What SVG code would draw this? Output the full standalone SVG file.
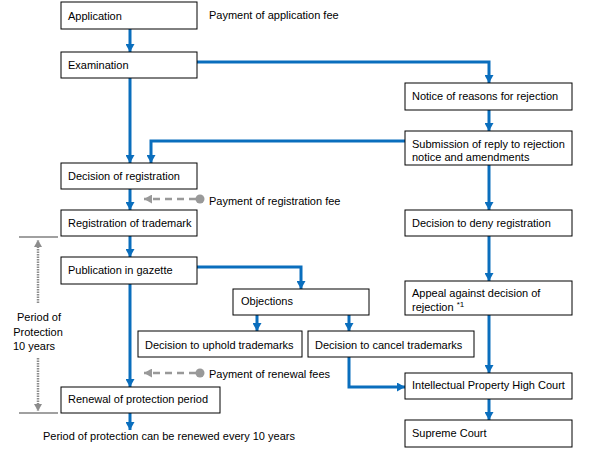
<svg xmlns="http://www.w3.org/2000/svg" width="592" height="450" viewBox="0 0 592 450">
<defs>
<style>
.box{fill:#fff;stroke:#000;stroke-width:1}
.t{font-family:"Liberation Sans",Arial,sans-serif;font-size:11px;fill:#000}
.c{fill:none;stroke:#0A6EBD;stroke-width:3;marker-end:url(#ab)}
.g{fill:none;stroke:#999;stroke-width:2.5;stroke-dasharray:7,5;marker-end:url(#ag)}
.br{stroke:#808080;stroke-width:1.5}
.dot{fill:none;stroke:#8c8c8c;stroke-width:2.5;stroke-dasharray:1.5,1}
</style>
<marker id="ab" markerUnits="userSpaceOnUse" markerWidth="8" markerHeight="9" refX="8" refY="4.5" orient="auto"><path d="M0,0 L8,4.5 L0,9 z" fill="#0A6EBD"/></marker>
<marker id="ag" markerUnits="userSpaceOnUse" markerWidth="9" markerHeight="9" refX="8" refY="4.5" orient="auto"><path d="M0,0 L8,4.5 L0,9 z" fill="#999"/></marker>
<marker id="ad" markerUnits="userSpaceOnUse" markerWidth="8" markerHeight="8" refX="7" refY="4" orient="auto"><path d="M0,0 L7,4 L0,8 z" fill="#8c8c8c"/></marker>
</defs>

<g id="connectors">
<path class="c" d="M130,29 V52"/>
<path class="c" d="M130,78 V163"/>
<path class="c" d="M197,62 H489 V83"/>
<path class="c" d="M489,110 V131"/>
<path class="c" d="M405,141 H151 V163"/>
<path class="c" d="M489,165 V210"/>
<path class="c" d="M130,189 V210"/>
<path class="c" d="M130,236 V257"/>
<path class="c" d="M130,284 V387"/>
<path class="c" d="M197,267 H301 V289"/>
<path class="c" d="M257,315 V331"/>
<path class="c" d="M349,315 V331"/>
<path class="c" d="M489,236 V281"/>
<path class="c" d="M489,315 V373"/>
<path class="c" d="M349,357 V387 H405"/>
<path class="c" d="M489,399 V420"/>
<path class="c" d="M130,413 V430"/>
<path class="g" d="M196,199 H144"/>
<circle cx="200" cy="199" r="4.5" fill="#999"/>
<path class="g" d="M196,373 H144"/>
<circle cx="200" cy="373" r="4.5" fill="#999"/>
</g>

<g id="period">
<line class="br" x1="19" y1="237" x2="58" y2="237"/>
<line class="br" x1="19" y1="413" x2="58" y2="413"/>
<line class="dot" x1="38" y1="303" x2="38" y2="240" marker-end="url(#ad)"/>
<line class="dot" x1="38" y1="358" x2="38" y2="411" marker-end="url(#ad)"/>
<text class="t" x="39" y="321" text-anchor="middle">Period of</text>
<text class="t" x="38" y="336" text-anchor="middle">Protection</text>
<text class="t" x="34" y="350" text-anchor="middle">10 years</text>
</g>

<g id="application"><rect class="box" x="61" y="2" width="136" height="27"/><text class="t" x="68" y="19.5">Application</text></g>
<g id="app-fee"><text class="t" x="209" y="19">Payment of application fee</text></g>
<g id="examination"><rect class="box" x="61" y="52" width="136" height="26"/><text class="t" x="68" y="69">Examination</text></g>
<g id="notice"><rect class="box" x="405" y="83" width="167" height="27"/><text class="t" x="412" y="100">Notice of reasons for rejection</text></g>
<g id="submission"><rect class="box" x="405" y="131" width="167" height="34"/><text class="t" x="412" y="147.5">Submission of reply to rejection</text><text class="t" x="412" y="161">notice and amendments</text></g>
<g id="decision-reg"><rect class="box" x="61" y="163" width="136" height="26"/><text class="t" x="68" y="180">Decision of registration</text></g>
<g id="reg-fee"><text class="t" x="209" y="205">Payment of registration fee</text></g>
<g id="registration"><rect class="box" x="61" y="210" width="136" height="26"/><text class="t" x="68" y="227">Registration of trademark</text></g>
<g id="deny"><rect class="box" x="405" y="210" width="167" height="26"/><text class="t" x="412" y="227">Decision to deny registration</text></g>
<g id="publication"><rect class="box" x="61" y="257" width="136" height="27"/><text class="t" x="68" y="274">Publication in gazette</text></g>
<g id="objections"><rect class="box" x="233" y="289" width="136" height="26"/><text class="t" x="241" y="305">Objections</text></g>
<g id="appeal"><rect class="box" x="405" y="281" width="167" height="34"/><text class="t" x="412" y="296.5">Appeal against decision of</text><text class="t" x="412" y="310.5">rejection <tspan font-size="8" dy="-4">*1</tspan></text></g>
<g id="uphold"><rect class="box" x="138" y="331" width="164" height="26"/><text class="t" x="145" y="349">Decision to uphold trademarks</text></g>
<g id="cancel"><rect class="box" x="308" y="331" width="166" height="26"/><text class="t" x="315" y="349">Decision to cancel trademarks</text></g>
<g id="renewal-fee"><text class="t" x="209" y="378">Payment of renewal fees</text></g>
<g id="iphc"><rect class="box" x="405" y="373" width="167" height="26"/><text class="t" x="412" y="389">Intellectual Property High Court</text></g>
<g id="renewal"><rect class="box" x="61" y="387" width="159" height="26"/><text class="t" x="68" y="403">Renewal of protection period</text></g>
<g id="supreme"><rect class="box" x="405" y="420" width="167" height="27"/><text class="t" x="412" y="436.5">Supreme Court</text></g>
<g id="renew-note"><text class="t" x="43" y="440">Period of protection can be renewed every 10 years</text></g>
</svg>
